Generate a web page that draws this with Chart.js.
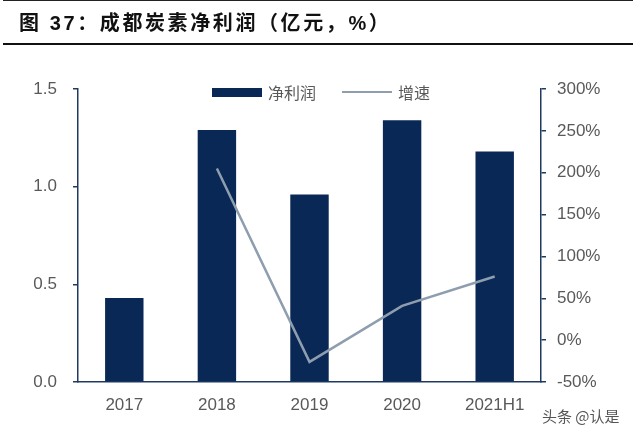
<!DOCTYPE html>
<html><head><meta charset="utf-8">
<script src="https://cdn.jsdelivr.net/npm/chart.js@4/dist/chart.umd.min.js"></script>
<style>
html,body{margin:0;padding:0;background:#fff;}
#wrap{position:relative;width:640px;height:438px;overflow:hidden;}
#c{position:absolute;left:0;top:0;}
#title{position:absolute;left:19px;top:7px;font-family:"Liberation Sans","Noto Sans CJK SC";font-weight:bold;font-size:20px;color:#111;letter-spacing:2.6px;white-space:nowrap;}
#topline{position:absolute;left:3px;top:0;width:630px;height:1px;background:#222;}
#rule{position:absolute;left:3px;top:43px;width:630px;height:2px;background:#111;}
#legend{position:absolute;top:80px;left:212px;font-family:"Noto Sans CJK SC";font-size:16px;color:#595959;display:flex;align-items:center;}
.sw{display:inline-block;width:50px;height:9px;background:#0a2856;margin-right:6px;}
.ln{display:inline-block;width:50px;height:2px;background:#8e9eae;margin-right:6px;margin-left:26px;}
#wm{position:absolute;left:542px;top:405px;font-family:"Noto Sans CJK SC";font-size:15px;color:#555;}
</style></head>
<body><div id="wrap">
<canvas id="c" width="640" height="438"></canvas>
<div id="topline"></div>
<div id="title">图 37：成都炭素净利润（亿元，%）</div>
<div id="rule"></div>
<div id="legend"><span class="sw"></span><span>净利润</span><span class="ln"></span><span>增速</span></div>
<div id="wm">头条 @认是</div>
</div>
<script>
const categories = ['2017','2018','2019','2020','2021H1'];
const netProfit = [0.43, 1.29, 0.96, 1.34, 1.18];
const growth = [null, 205, -26, 41, 76];
const leftTicks = [0, 0.5, 1.0, 1.5];
const rightTicks = [-50, 0, 50, 100, 150, 200, 250, 300];

const navy = '#0a2856';
const axisColor = '#1f3a60';
const font = {family:'"Liberation Sans", Arial', size:17};
new Chart(document.getElementById('c'), {
  data: {
    labels: categories,
    datasets: [
      {type:'line', label:'增速', data:growth, yAxisID:'y1', borderColor:'#8e9eae', borderWidth:2.5, pointRadius:0, tension:0, order:0},
      {type:'bar', label:'净利润', data:netProfit, yAxisID:'y', backgroundColor:navy, categoryPercentage:1, barPercentage:0.415, order:1}
    ]
  },
  options: {
    responsive:false, animation:false,
    layout:{padding:{top:89, left:0, right:0, bottom:0}},
    plugins:{legend:{display:false}, tooltip:{enabled:false}},
    scales:{
      x:{
        grid:{display:false, drawTicks:false},
        border:{color:axisColor, width:1.5},
        ticks:{font:font, color:'#595959', padding:13},
        afterFit:s=>{s.height=56;}
      },
      y:{
        position:'left', min:0, max:1.5,
        afterBuildTicks:s=>{s.ticks=leftTicks.map(v=>({value:v}));},
        ticks:{font:font, color:'#595959', padding:16, callback:v=>Number(v).toFixed(1)},
        grid:{drawOnChartArea:false, drawTicks:true, tickLength:5, color:axisColor, lineWidth:1.5},
        border:{color:axisColor, width:1.5},
        afterFit:s=>{s.width=78;}
      },
      y1:{
        position:'right', min:-50, max:300,
        afterBuildTicks:s=>{s.ticks=rightTicks.map(v=>({value:v}));},
        ticks:{font:font, color:'#595959', padding:11, callback:v=>v+'%'},
        grid:{drawOnChartArea:false, drawTicks:true, tickLength:5, color:axisColor, lineWidth:1.5},
        border:{color:axisColor, width:1.5},
        afterFit:s=>{s.width=99;}
      }
    }
  }
});
</script>
</body></html>
